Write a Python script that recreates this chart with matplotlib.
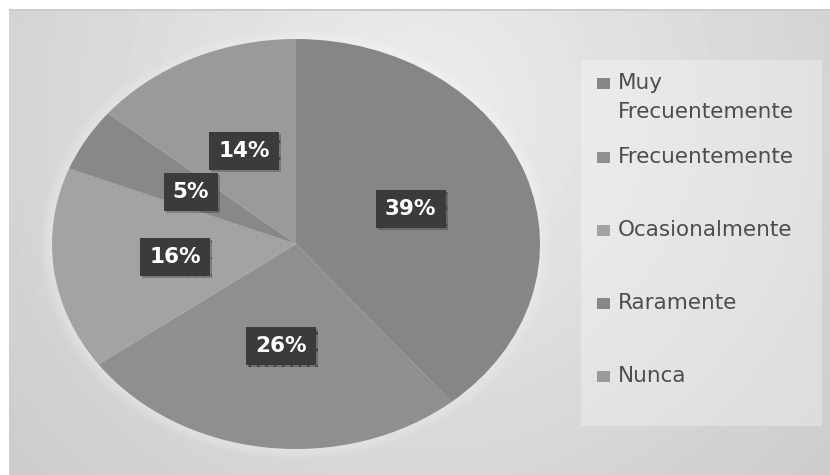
import numpy as np
import matplotlib
matplotlib.use("Agg")
import matplotlib.pyplot as plt
import matplotlib.patheffects as pe
from matplotlib.patches import Rectangle, Ellipse

categories = ["Muy\nFrecuentemente", "Frecuentemente", "Ocasionalmente", "Raramente", "Nunca"]
values = [39, 26, 16, 5, 14]
colors = ["#868686", "#8f8f8f", "#a3a3a3", "#888888", "#9a9a9a"]

W, H = 830, 475
plt.rcParams["hatch.color"] = "#4e4e4e"
plt.rcParams["hatch.linewidth"] = 0.8

fig = plt.figure(figsize=(W / 100, H / 100), dpi=100)
fig.patch.set_facecolor("white")

# background panel with a soft radial gradient
bg = fig.add_axes([0, 0, 1, 1])
yy, xx = np.mgrid[0:H, 0:W]
d = np.hypot(xx - 420, yy - 110)
shade = np.clip(0.93 - 0.00024 * d, 0.77, 0.93)
shade[:9, :] = 1.0
shade[:, :9] = 1.0
shade[9:11, 9:] = 0.8
bg.imshow(shade, cmap="gray", vmin=0, vmax=1, extent=(0, W, H, 0), interpolation="bilinear")
bg.set_xlim(0, W)
bg.set_ylim(H, 0)
bg.axis("off")

# soft white glow behind the pie
for k in range(6):
    s = 1.0 + 0.008 * (k + 1)
    bg.add_patch(Ellipse((296, 244), 488 * s, 410 * s, facecolor="white",
                         edgecolor="none", alpha=0.06))

ax = fig.add_axes([52 / W, 26 / H, 488 / W, 410 / H])
wedges, texts, autotexts = ax.pie(values, colors=colors, startangle=90, counterclock=False,
                                  autopct="%.0f%%", pctdistance=0.5,
                                  wedgeprops=dict(linewidth=0),
                                  textprops=dict(color="white", fontsize=15.5, fontweight="bold"))
ax.set_aspect("auto")
ax.set_xlim(-1, 1)
ax.set_ylim(-1, 1)

for t in autotexts:
    t.set_bbox(dict(boxstyle="square,pad=0.42", facecolor="#3b3b3b", edgecolor="#3b3b3b",
                    linewidth=0, hatch=".."))
    t.get_bbox_patch().set_path_effects([
        pe.SimplePatchShadow(offset=(1.5, -1.5), shadow_rgbFace="black", alpha=0.22),
        pe.Normal()])

# legend drawn in Excel style
bg.add_patch(Rectangle((581, 60), 241, 366, facecolor="white", edgecolor="none", alpha=0.3))
legend_y = [83, 157, 230, 303, 376]
for lab, col, y in zip(categories, colors, legend_y):
    bg.add_patch(Rectangle((597, y - 5.5), 13, 11, facecolor=col, edgecolor="none"))
    for i, line in enumerate(lab.split("\n")):
        bg.text(618, y + 29 * i, line, color="#4d4d4d", fontsize=15.5,
                va="center", ha="left")

fig.savefig("out.png", dpi=100)
